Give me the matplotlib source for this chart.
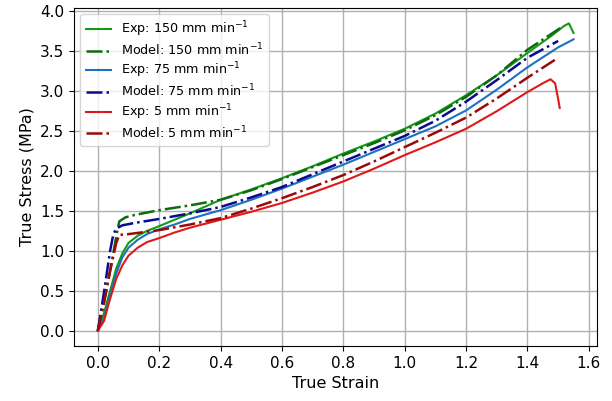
import matplotlib
matplotlib.use("Agg")
import matplotlib.pyplot as plt

# Exp 150 mm/min
exp150_x = [0, 0.02, 0.04, 0.06, 0.08, 0.10, 0.13, 0.16, 0.20, 0.25, 0.30, 0.40, 0.50, 0.60, 0.70, 0.80,
            0.90, 1.00, 1.10, 1.20, 1.30, 1.40, 1.48, 1.52, 1.535, 1.55]
exp150_y = [0, 0.22, 0.50, 0.78, 0.97, 1.10, 1.19, 1.25, 1.31, 1.39, 1.47, 1.64, 1.77, 1.91, 2.06, 2.22,
            2.37, 2.53, 2.72, 2.95, 3.20, 3.48, 3.70, 3.82, 3.85, 3.73]
# Model 150 mm/min
mod150_x = [0, 0.02, 0.04, 0.06, 0.07, 0.09, 0.12, 0.20, 0.30, 0.40, 0.50, 0.60, 0.70, 0.80, 0.90,
            1.00, 1.10, 1.20, 1.30, 1.40, 1.51]
mod150_y = [0, 0.35, 0.75, 1.18, 1.37, 1.42, 1.45, 1.51, 1.57, 1.64, 1.76, 1.90, 2.05, 2.20, 2.35,
            2.51, 2.70, 2.93, 3.20, 3.52, 3.80]
# Exp 75 mm/min
exp75_x = [0, 0.02, 0.04, 0.06, 0.08, 0.10, 0.13, 0.16, 0.20, 0.25, 0.30, 0.40, 0.50, 0.60, 0.70, 0.80,
           0.90, 1.00, 1.10, 1.20, 1.30, 1.40, 1.50, 1.55]
exp75_y = [0, 0.15, 0.45, 0.72, 0.92, 1.04, 1.14, 1.21, 1.27, 1.33, 1.40, 1.51, 1.64, 1.78, 1.93, 2.08,
           2.24, 2.40, 2.56, 2.76, 3.02, 3.30, 3.55, 3.65]
# Model 75 mm/min
mod75_x = [0, 0.02, 0.04, 0.05, 0.06, 0.08, 0.12, 0.20, 0.30, 0.40, 0.50, 0.60, 0.70, 0.80, 0.90,
           1.00, 1.10, 1.20, 1.30, 1.40, 1.50]
mod75_y = [0, 0.48, 1.00, 1.20, 1.28, 1.32, 1.35, 1.40, 1.47, 1.55, 1.67, 1.80, 1.96, 2.12, 2.28,
           2.44, 2.63, 2.87, 3.14, 3.42, 3.63]
# Exp 5 mm/min
exp5_x = [0, 0.02, 0.04, 0.06, 0.08, 0.10, 0.13, 0.16, 0.20, 0.25, 0.30, 0.40, 0.50, 0.60, 0.70, 0.80,
          0.90, 1.00, 1.10, 1.20, 1.30, 1.40, 1.45, 1.475, 1.49, 1.50, 1.505]
exp5_y = [0, 0.12, 0.40, 0.65, 0.82, 0.94, 1.04, 1.11, 1.16, 1.23, 1.29, 1.39, 1.49, 1.60, 1.73, 1.87,
          2.03, 2.20, 2.36, 2.53, 2.75, 2.99, 3.10, 3.15, 3.10, 2.90, 2.79]
# Model 5 mm/min
mod5_x = [0, 0.02, 0.04, 0.06, 0.07, 0.10, 0.20, 0.30, 0.40, 0.50, 0.60, 0.70, 0.80, 0.90, 1.00,
          1.10, 1.20, 1.30, 1.40, 1.50]
mod5_y = [0, 0.35, 0.75, 1.10, 1.20, 1.21, 1.26, 1.33, 1.41, 1.53, 1.66, 1.80, 1.95, 2.12, 2.30,
          2.48, 2.67, 2.91, 3.17, 3.42]

labels = [r"Exp: 150 mm min$^{-1}$", r"Model: 150 mm min$^{-1}$",
          r"Exp: 75 mm min$^{-1}$", r"Model: 75 mm min$^{-1}$",
          r"Exp: 5 mm min$^{-1}$", r"Model: 5 mm min$^{-1}$"]

fig = plt.figure(figsize=(6.12, 4.01), dpi=100)
ax = fig.add_axes([0.121, 0.137, 0.855, 0.843])

ax.plot(exp150_x, exp150_y, color="#139a13", lw=1.5, label=labels[0])
ax.plot(mod150_x, mod150_y, color="#0f6b0f", lw=1.8, ls="-.", label=labels[1])
ax.plot(exp75_x, exp75_y, color="#1c72c0", lw=1.5, label=labels[2])
ax.plot(mod75_x, mod75_y, color="#0a0a90", lw=1.8, ls="-.", label=labels[3])
ax.plot(exp5_x, exp5_y, color="#e01818", lw=1.5, label=labels[4])
ax.plot(mod5_x, mod5_y, color="#9a0a0a", lw=1.8, ls="-.", label=labels[5])

ax.set_xlabel("True Strain", fontsize=11.5)
ax.set_ylabel("True Stress (MPa)", fontsize=11.5)
ax.set_xticks([0.0, 0.2, 0.4, 0.6, 0.8, 1.0, 1.2, 1.4, 1.6])
ax.set_yticks([0.0, 0.5, 1.0, 1.5, 2.0, 2.5, 3.0, 3.5, 4.0])
ax.tick_params(labelsize=11)
ax.grid(True, color="#b0b0b0", lw=1.0)
ax.legend(loc="upper left", fontsize=9.2, labelspacing=0.2)

fig.savefig("out.png", dpi=100)
